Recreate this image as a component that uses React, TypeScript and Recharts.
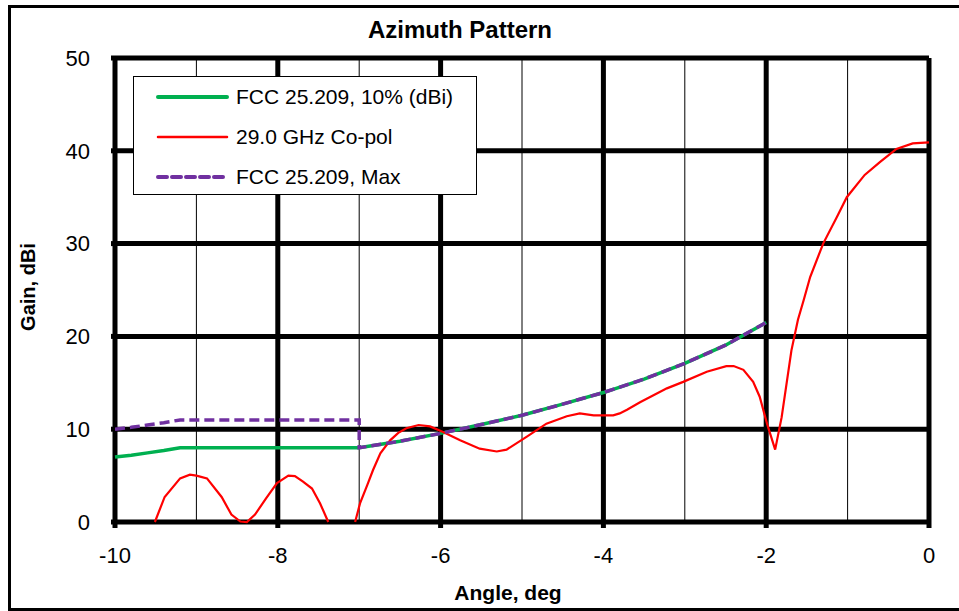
import React from 'react';
import {
  LineChart,
  Line,
  XAxis,
  YAxis,
  ReferenceLine,
  Label,
} from 'recharts';

const redAngles = [
  -9.51, -9.39, -9.2, -9.08, -9.0, -8.87, -8.69, -8.57, -8.46, -8.38, -8.28, -8.14, -8.01, -7.87, -7.79, -7.69, -7.58, -7.48, -7.38,
  -7.2,
  -7.05, -6.99, -6.9, -6.83, -6.74, -6.62, -6.52, -6.42, -6.27, -6.13, -5.97, -5.76, -5.52, -5.31, -5.19, -4.94, -4.7, -4.45, -4.29,
  -4.12, -3.88, -3.8, -3.71, -3.55, -3.22, -3.02, -2.73, -2.49, -2.4, -2.28, -2.16, -2.08, -1.99, -1.89, -1.81, -1.69, -1.61, -1.54,
  -1.46, -1.3, -1.13, -1.01, -0.79, -0.6, -0.4, -0.2, 0,
];
const redGain: (number | null)[] = [
  0, 2.7, 4.7, 5.1, 5.0, 4.7, 2.7, 0.8, 0.05, 0, 0.8, 2.6, 4.2, 5.0, 4.95, 4.35, 3.6, 2.0, 0,
  null,
  0, 2.0, 4.0, 5.6, 7.4, 8.8, 9.6, 10.1, 10.45, 10.3, 9.7, 8.8, 7.9, 7.6, 7.8, 9.2, 10.6, 11.4, 11.7,
  11.5, 11.5, 11.7, 12.1, 12.9, 14.4, 15.1, 16.2, 16.8, 16.8, 16.4, 15.1, 13.5, 10.6, 7.8, 11.3, 18.5, 21.8, 23.9,
  26.4, 30.0, 32.9, 35.0, 37.4, 38.8, 40.2, 40.8, 40.9,
];

// FCC 25.209 envelope (10% line)
const fcc10Angles = [-10, -9.8, -9.6, -9.4, -9.2, -7, -6.5, -6, -5.5, -5, -4.5, -4, -3.5, -3, -2.5, -2];
const fcc10Gain = [7.0, 7.2, 7.45, 7.7, 8.0, 8.0, 8.7, 9.55, 10.5, 11.5, 12.7, 13.95, 15.4, 17.1, 19.05, 21.5];

// FCC 25.209 max line
const fccMaxAngles = [-10, -9.8, -9.6, -9.4, -9.2, -7, -7, -6.5, -6, -5.5, -5, -4.5, -4, -3.5, -3, -2.5, -2];
const fccMaxGain = [10.0, 10.2, 10.45, 10.7, 11.0, 11.0, 8.0, 8.7, 9.55, 10.5, 11.5, 12.7, 13.95, 15.4, 17.1, 19.05, 21.5];

const xTicks = [-10, -8, -6, -4, -2, 0];
const xMinor = [-9, -7, -5, -3, -1];
const yTicks = [0, 10, 20, 30, 40, 50];

const FONT = '"Liberation Sans", Arial, sans-serif';

const redData = redAngles.map((a, i) => ({ angle: a, gain: redGain[i] }));
const fcc10Data = fcc10Angles.map((a, i) => ({ angle: a, gain: fcc10Gain[i] }));
const fccMaxData = fccMaxAngles.map((a, i) => ({ angle: a, gain: fccMaxGain[i] }));

const legendItems = [
  { name: 'FCC 25.209, 10% (dBi)', color: '#00B050', width: 4, dash: undefined },
  { name: '29.0 GHz Co-pol', color: '#FF0000', width: 2.5, dash: undefined },
  { name: 'FCC 25.209, Max', color: '#7030A0', width: 4, dash: '9 5' },
];

const YTitle = (props: any) => {
  const vb = props.viewBox || {};
  const x = vb.x - 27;
  const y = vb.y + vb.height / 2 - 3;
  return (
    <text
      x={x}
      y={y}
      transform={`rotate(-90 ${x} ${y})`}
      textAnchor="middle"
      dominantBaseline="central"
      fontFamily={FONT}
      fontWeight="bold"
      fontSize={20}
      fill="#000"
    >
      Gain, dBi
    </text>
  );
};

export default function App() {
  return (
    <div style={{ position: 'absolute', left: 0, top: 0, width: 959, height: 611, background: '#fff', overflow: 'hidden' }}>
      {/* outer frame */}
      <div
        style={{
          position: 'absolute',
          left: 8,
          top: 5,
          width: 970,
          height: 600,
          border: '3px solid #000',
        }}
      />
      <div
        style={{
          position: 'absolute',
          left: 0,
          top: 18,
          width: 920,
          textAlign: 'center',
          fontFamily: FONT,
          fontWeight: 'bold',
          fontSize: 24,
          lineHeight: '24px',
          color: '#000',
        }}
      >
        Azimuth Pattern
      </div>

      <div style={{ position: 'absolute', left: 0, top: 0 }}>
        <LineChart width={959} height={611} margin={{ top: 58, right: 30, left: 55, bottom: 9 }}>
          <XAxis
            type="number"
            dataKey="angle"
            domain={[-10, 0]}
            ticks={xTicks}
            allowDuplicatedCategory={false}
            height={80}
            axisLine={false}
            tickLine={{ stroke: '#000', strokeWidth: 5 }}
            tickSize={6}
            tickMargin={19}
            tick={{ fill: '#000', fontSize: 22, fontFamily: FONT }}
          >
            <Label
              value="Angle, deg"
              position="insideBottom"
              offset={2}
              dx={-14}
              style={{ fontFamily: FONT, fontWeight: 'bold', fontSize: 21, fill: '#000' }}
            />
          </XAxis>
          <YAxis
            type="number"
            domain={[0, 50]}
            ticks={yTicks}
            width={60}
            axisLine={false}
            tickLine={{ stroke: '#000', strokeWidth: 5 }}
            tickSize={4}
            tickMargin={21}
            tick={{ fill: '#000', fontSize: 22, fontFamily: FONT }}
          >
            <Label content={<YTitle />} />
          </YAxis>

          {xMinor.map((v) => (
            <ReferenceLine key={`xm${v}`} x={v} stroke="#000" strokeWidth={1} zIndex={100} />
          ))}
          {yTicks.map((v) => (
            <ReferenceLine key={`y${v}`} y={v} stroke="#000" strokeWidth={5} zIndex={100} />
          ))}
          {xTicks.map((v) => (
            <ReferenceLine key={`x${v}`} x={v} stroke="#000" strokeWidth={5} zIndex={100} />
          ))}

          <Line
            data={fcc10Data}
            dataKey="gain"
            type="linear"
            stroke="#00B050"
            strokeWidth={3.5}
            dot={false}
            activeDot={false}
            isAnimationActive={false}
          />
          <Line
            data={redData}
            dataKey="gain"
            type="linear"
            stroke="#FF0000"
            strokeWidth={2.2}
            dot={false}
            activeDot={false}
            connectNulls={false}
            isAnimationActive={false}
          />
          <Line
            data={fccMaxData}
            dataKey="gain"
            type="linear"
            stroke="#7030A0"
            strokeWidth={3.5}
            strokeDasharray="10 5"
            dot={false}
            activeDot={false}
            isAnimationActive={false}
          />
        </LineChart>
      </div>

      {/* legend */}
      <div
        style={{
          position: 'absolute',
          left: 133,
          top: 76,
          width: 342,
          height: 117,
          border: '1.5px solid #000',
          background: '#fff',
          fontFamily: FONT,
          fontSize: 21,
          color: '#000',
        }}
      >
        {legendItems.map((item) => (
          <div key={item.name} style={{ display: 'flex', alignItems: 'center', height: 40 }}>
            <svg width={102} height={10} style={{ flex: 'none' }}>
              <line
                x1={24}
                y1={5}
                x2={93}
                y2={5}
                stroke={item.color}
                strokeWidth={item.width}
                strokeDasharray={item.dash}
                strokeLinecap="round"
              />
            </svg>
            <span>{item.name}</span>
          </div>
        ))}
      </div>
    </div>
  );
}
